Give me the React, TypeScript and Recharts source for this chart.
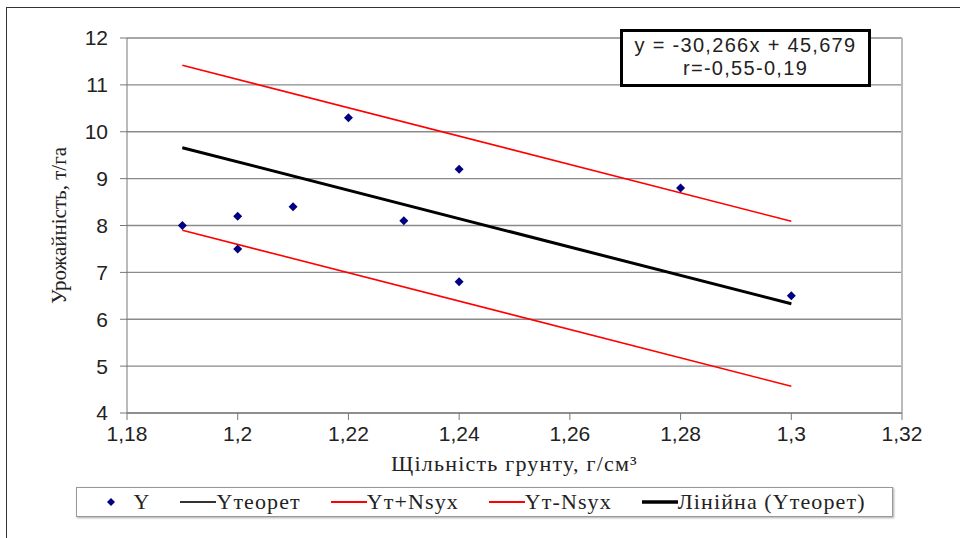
import React from 'react';
import { CartesianGrid, Legend, ReferenceLine, Scatter, ScatterChart, XAxis, YAxis } from 'recharts';

// спостереження
const densityObs = [1.19, 1.2, 1.2, 1.21, 1.22, 1.23, 1.24, 1.24, 1.28, 1.3];
const yieldObs = [8.0, 8.2, 7.5, 8.4, 10.3, 8.1, 9.2, 6.8, 8.8, 6.5];

// лінії (кінцеві точки)
const lineX = [1.19, 1.3];
const yTheor = [9.66, 6.33];
const yPlus = [11.42, 8.09];
const yMinus = [7.9, 4.57];

const xTicks = [1.18, 1.2, 1.22, 1.24, 1.26, 1.28, 1.3, 1.32];
const yTicks = [4, 5, 6, 7, 8, 9, 10, 11, 12];

const pointsY = densityObs.map((x, i) => ({ x, y: yieldObs[i] }));
const toLine = (vals: number[]) => lineX.map((x, i) => ({ x, y: vals[i] }));

const fmt = (v: number) => String(v).replace('.', ',');

const Diamond = (props: any) => {
  const { cx, cy } = props;
  if (cx == null || cy == null) return <g />;
  const r = 4.5;
  return <path d={`M${cx},${cy - r}L${cx + r},${cy}L${cx},${cy + r}L${cx - r},${cy}Z`} fill="#000080" />;
};

const NoShape = () => <g />;

const legendItems = [
  { name: 'Y', kind: 'dot' },
  { name: 'Yтеорет', kind: 'line', color: '#333', w: 2 },
  { name: 'Yт+Nsyx', kind: 'line', color: '#ff0000', w: 2 },
  { name: 'Yт-Nsyx', kind: 'line', color: '#ff0000', w: 2 },
  { name: 'Лінійна (Yтеорет)', kind: 'line', color: '#000', w: 3.5 },
];

const LegendBox = () => (
  <div
    style={{
      border: '1px solid #999',
      boxShadow: '1px 1px 2px #aaa',
      height: 28,
      display: 'flex',
      alignItems: 'center',
      justifyContent: 'center',
      gap: 30,
      fontFamily: '"Liberation Serif", "Times New Roman", serif',
      fontSize: 22,
      letterSpacing: 1.1,
      color: '#222',
      background: '#fff',
    }}
  >
    {legendItems.map((it) => (
      <span key={it.name} style={{ display: 'flex', alignItems: 'center' }}>
        {it.kind === 'dot' ? (
          <svg width={24} height={12}>
            <path d="M8,2L12,6L8,10L4,6Z" fill="#000080" />
          </svg>
        ) : (
          <svg width={36} height={12}>
            <line x1={0} y1={6} x2={36} y2={6} stroke={it.color} strokeWidth={it.w} />
          </svg>
        )}
        <span style={{ marginLeft: it.kind === 'dot' ? 6 : 0 }}>{it.name}</span>
      </span>
    ))}
  </div>
);

const tickStyle = { fill: '#222', fontSize: 21, fontFamily: '"Liberation Sans", Arial, sans-serif' };

const App: React.FC = () => {
  return (
    <div style={{ position: 'absolute', left: 0, top: 0, width: 960, height: 538, background: '#fff' }}>
      <div
        style={{
          position: 'absolute',
          left: 6,
          top: 7,
          width: 960,
          height: 538,
          borderLeft: '1.5px solid #333',
          borderTop: '1.5px solid #333',
        }}
      />
      <ScatterChart width={960} height={538} margin={{ top: 38, right: 58, bottom: 65, left: 67 }}>
        <CartesianGrid vertical={false} stroke="#8a8a8a" strokeWidth={1.3} />
        <XAxis
          type="number"
          dataKey="x"
          domain={[1.18, 1.32]}
          ticks={xTicks}
          tickFormatter={fmt}
          stroke="#777"
          tickSize={7}
          tickMargin={6}
          height={30}
          tick={tickStyle}
          allowDataOverflow
          label={{
            value: 'Щільність грунту, г/см³',
            position: 'insideBottom',
            offset: -28,
            style: { fontFamily: '"Liberation Serif", serif', fontSize: 22, letterSpacing: 1.2, fill: '#222' },
          }}
        />
        <YAxis
          type="number"
          dataKey="y"
          domain={[4, 12]}
          ticks={yTicks}
          stroke="#777"
          tickSize={7}
          tickMargin={12}
          width={60}
          tick={tickStyle}
          label={{
            value: 'Урожайність, т/га',
            angle: -90,
            position: 'insideLeft',
            offset: -8,
            style: { textAnchor: 'middle', fontFamily: '"Liberation Serif", serif', fontSize: 21, fill: '#222' },
          }}
        />
        <ReferenceLine x={1.32} stroke="#bbb" strokeWidth={2} />
        <Scatter name="Yт+Nsyx" data={toLine(yPlus)} line={{ stroke: '#ff0000', strokeWidth: 1.6 }} shape={NoShape} isAnimationActive={false} />
        <Scatter name="Yт-Nsyx" data={toLine(yMinus)} line={{ stroke: '#ff0000', strokeWidth: 1.6 }} shape={NoShape} isAnimationActive={false} />
        <Scatter name="Yтеорет" data={toLine(yTheor)} line={{ stroke: '#333', strokeWidth: 1 }} shape={NoShape} isAnimationActive={false} />
        <Scatter name="Лінійна (Yтеорет)" data={toLine(yTheor)} line={{ stroke: '#000', strokeWidth: 3 }} shape={NoShape} isAnimationActive={false} />
        <Scatter name="Y" data={pointsY} shape={Diamond} isAnimationActive={false} />
        <Legend
          content={LegendBox}
          wrapperStyle={{ position: 'absolute', left: 76, top: 487, width: 817, bottom: 'auto' }}
        />
      </ScatterChart>
      <div
        style={{
          position: 'absolute',
          left: 620,
          top: 29,
          width: 245,
          height: 50,
          border: '3.5px solid #000',
          background: '#fff',
          fontFamily: '"Liberation Sans", Arial, sans-serif',
          fontSize: 20,
          letterSpacing: 1.3,
          color: '#222',
          textAlign: 'center',
          lineHeight: '23px',
          paddingTop: 2,
          boxSizing: 'content-box',
          whiteSpace: 'nowrap',
        }}
      >
        <div>y = -30,266x + 45,679</div>
        <div>r=-0,55-0,19</div>
      </div>
    </div>
  );
};

export default App;
